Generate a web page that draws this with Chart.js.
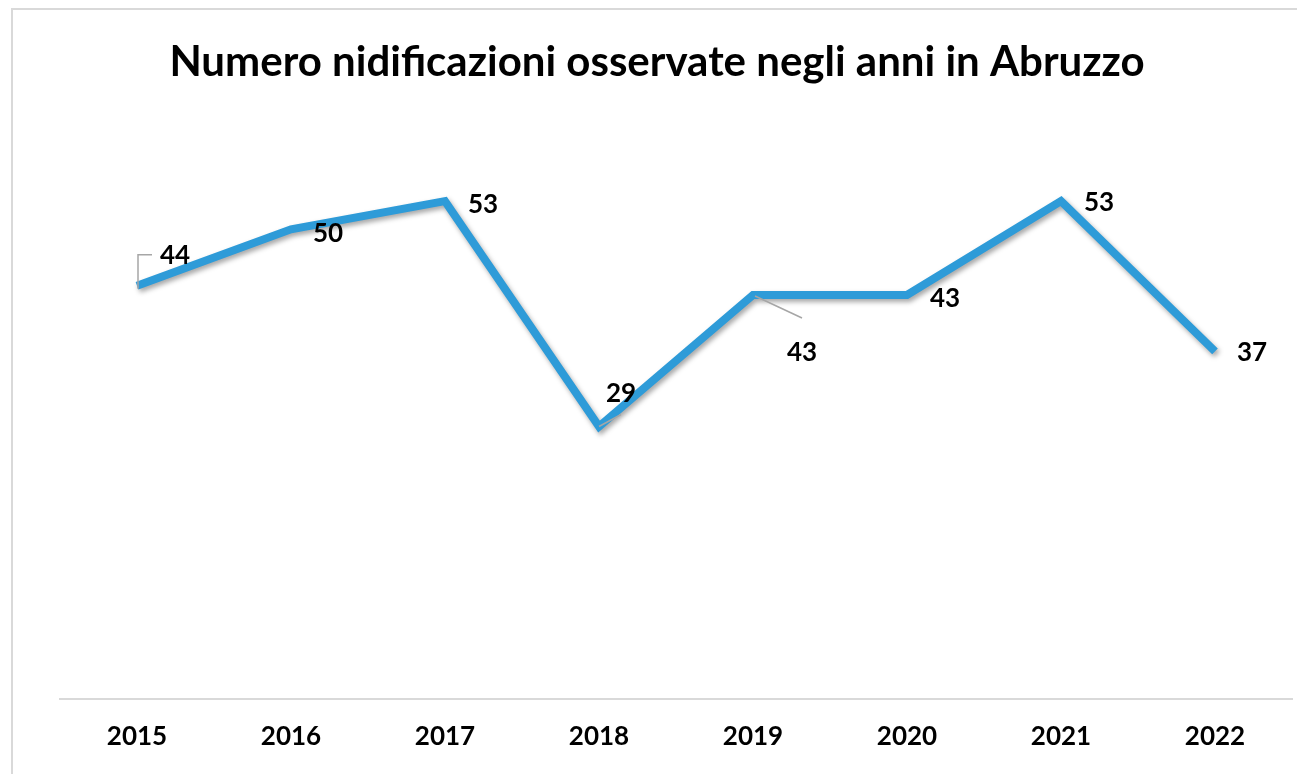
<!DOCTYPE html>
<html>
<head>
<meta charset="utf-8">
<script src="https://cdn.jsdelivr.net/npm/chart.js@4.4.1/dist/chart.umd.min.js"></script>
<style>
  html, body { margin: 0; padding: 0; background: #ffffff; }
  #wrap { position: relative; width: 1297px; height: 774px; overflow: hidden; background: #fff; }
  #frame { position: absolute; left: 11px; top: 8px; width: 1400px; height: 900px;
           border-top: 2px solid #d9d9d9; border-left: 2px solid #d9d9d9; box-sizing: border-box; }
  canvas { position: absolute; left: 0; top: 0; }
</style>
</head>
<body>
<div id="wrap">
  <div id="frame"></div>
  <canvas id="c" width="1297" height="774"></canvas>
</div>
<script>
// ---- data ----
const titleText = 'Numero nidificazioni osservate negli anni in Abruzzo';
const years = ['2015', '2016', '2017', '2018', '2019', '2020', '2021', '2022'];
const nests = [44, 50, 53, 29, 43, 43, 53, 37];

// ---- label placement (pixel offsets from each point, centre of label) ----
const labelOffsets = [[38, -30], [37, 4], [38, 3], [22, -33], [49, 58], [38, 4], [38, 1], [37, 1]];
// leader lines (pixel offsets from each point), null = none
const leaderLines = [
  [[1, 3], [1, -31], [15, -31]],
  null, null,
  [[0, 0], [22, -12]],
  [[2, 1], [49, 23]],
  null, null, null
];

const FONT = 'Lato, "Open Sans", "Liberation Sans", sans-serif';

const labelPlugin = {
  id: 'pointLabels',
  beforeDatasetDraw(chart) {
    const ctx = chart.ctx;
    ctx.save();
    ctx.shadowColor = 'rgba(0,0,0,0.35)';
    ctx.shadowBlur = 5;
    ctx.shadowOffsetX = 2;
    ctx.shadowOffsetY = 3;
  },
  afterDatasetDraw(chart) {
    chart.ctx.restore();
  },
  afterDatasetsDraw(chart) {
    const ctx = chart.ctx;
    const meta = chart.getDatasetMeta(0);
    ctx.save();
    meta.data.forEach((pt, i) => {
      const ll = leaderLines[i];
      if (ll) {
        ctx.beginPath();
        ctx.strokeStyle = '#a6a6a6';
        ctx.lineWidth = 1.5;
        ll.forEach((p, k) => {
          const x = pt.x + p[0], y = pt.y + p[1];
          if (k === 0) ctx.moveTo(x, y); else ctx.lineTo(x, y);
        });
        ctx.stroke();
      }
    });
    ctx.fillStyle = '#000000';
    ctx.font = 'bold 26px ' + FONT;
    ctx.textAlign = 'center';
    ctx.textBaseline = 'middle';
    meta.data.forEach((pt, i) => {
      const o = labelOffsets[i];
      ctx.fillText(String(chart.data.datasets[0].data[i]), pt.x + o[0], pt.y + o[1]);
    });
    ctx.restore();
  }
};

new Chart(document.getElementById('c'), {
  type: 'line',
  data: {
    labels: years,
    datasets: [{
      label: 'Nidificazioni',
      data: nests,
      borderColor: '#2E9BD8',
      borderWidth: 8,
      borderJoinStyle: 'miter',
      borderCapStyle: 'butt',
      pointRadius: 0,
      pointHoverRadius: 0,
      tension: 0,
      fill: false
    }]
  },
  options: {
    responsive: false,
    animation: false,
    layout: { padding: { left: 22, right: 5, top: 0, bottom: 0 } },
    plugins: {
      legend: { display: false },
      tooltip: { enabled: false },
      title: {
        display: true,
        text: titleText,
        color: '#000000',
        font: { family: FONT, size: 42, weight: 'bold', lineHeight: 1.2 },
        padding: { top: 37, bottom: 48 }
      }
    },
    scales: {
      x: {
        offset: true,
        grid: { display: false, drawTicks: false },
        border: { display: true, color: '#d9d9d9', width: 2 },
        ticks: { color: '#000000', padding: 22, font: { family: FONT, size: 26, weight: 'bold' } }
      },
      y: {
        display: true,
        min: 0,
        max: 60,
        grid: { display: false, drawTicks: false },
        border: { display: false },
        ticks: { display: false },
        afterFit(scale) { scale.width = 38; }
      }
    }
  },
  plugins: [labelPlugin]
});
</script>
</body>
</html>
